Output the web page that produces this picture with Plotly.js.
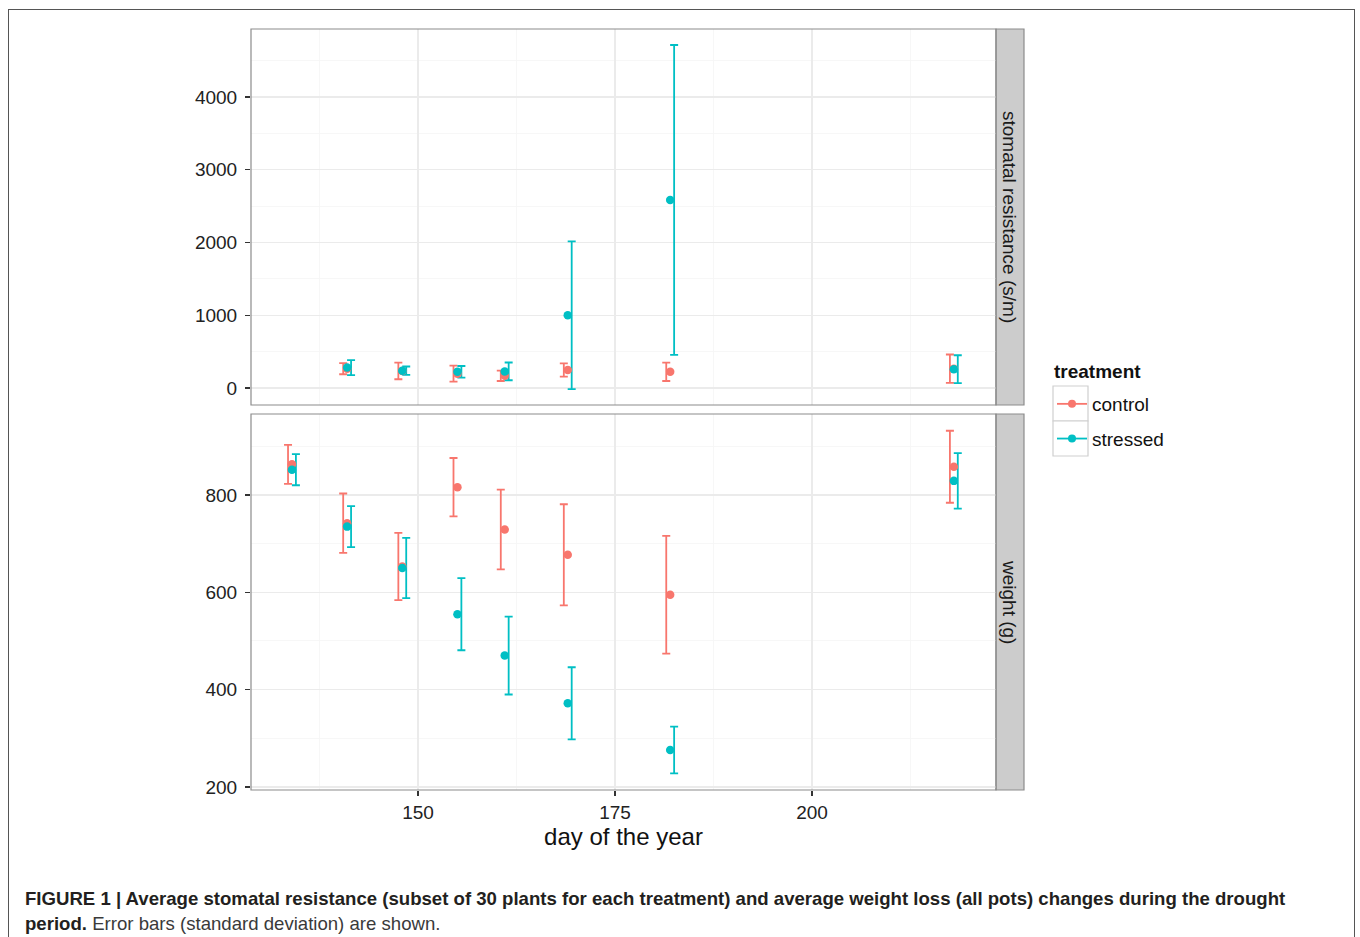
<!DOCTYPE html>
<html>
<head>
<meta charset="utf-8">
<script src="https://cdn.plot.ly/plotly-3.0.1.min.js"></script>
<style>
  html, body { margin: 0; padding: 0; background: #ffffff; }
  #frame { position: absolute; left: 8px; top: 9px; width: 1347px; height: 960px; border: 1px solid #555; box-sizing: border-box; }
  #chart { position: absolute; left: 0; top: 0; width: 1360px; height: 937px; }
  #caption { position: absolute; left: 25px; top: 886px; width: 1320px; font-family: "Liberation Sans", Arial, Helvetica, sans-serif; font-size: 18.6px; line-height: 25px; color: #231f20; white-space: nowrap; }
  #caption b { font-weight: bold; }
  #caption .rest { color: #3a3a3a; }
</style>
</head>
<body>
<div id="frame"></div>
<div id="chart"></div>
<div id="caption"><b>FIGURE 1 | Average stomatal resistance (subset of 30 plants for each treatment) and average weight loss (all pots) changes during the drought</b><br><b>period.</b> <span class="rest">Error bars (standard deviation) are shown.</span></div>
<script>
// ---- data ----
const resDays = [141, 148, 155, 161, 169, 182, 218];
const resControlMean = [265, 234, 197, 167, 247, 222, 265];
const resControlSD = [76, 114, 110, 71, 92, 126, 195];
const resStressedMean = [280, 238, 222, 228, 1000, 2585, 258];
const resStressedSD = [103, 57, 80, 122, 1015, 2130, 192];

const wDays = [134, 141, 148, 155, 161, 169, 182, 218];
const wControlMean = [863, 742, 653, 816, 729, 677, 595, 858];
const wControlSD = [40, 61, 69, 60, 82, 104, 121, 74];
const wStressedMean = [852, 735, 650, 555, 470, 372, 276, 829];
const wStressedSD = [32, 42, 62, 74, 80, 74, 48, 57];

const treatments = ['control', 'stressed'];
const colors = { control: '#F8766D', stressed: '#00BFC4' };
const panelLabels = ['stomatal resistance (s/m)', 'weight (g)'];

// ---- traces ----
const dodge = 0.5;
function errTrace(days, mean, sd, color, offset, xa, ya) {
  return {
    type: 'scatter', mode: 'markers', x: days.map(d => d + offset), y: mean,
    xaxis: xa, yaxis: ya, showlegend: false, hoverinfo: 'skip',
    marker: { size: 1, opacity: 0, color: color },
    error_y: { type: 'data', array: sd, visible: true, color: color, thickness: 1.8, width: 4 }
  };
}
function ptTrace(days, mean, color, xa, ya) {
  return {
    type: 'scatter', mode: 'markers', x: days, y: mean,
    xaxis: xa, yaxis: ya, showlegend: false,
    marker: { size: 8.5, color: color }
  };
}
const traces = [
  errTrace(resDays, resControlMean, resControlSD, colors.control, -dodge, 'x2', 'y2'),
  errTrace(resDays, resStressedMean, resStressedSD, colors.stressed, dodge, 'x2', 'y2'),
  ptTrace(resDays, resControlMean, colors.control, 'x2', 'y2'),
  ptTrace(resDays, resStressedMean, colors.stressed, 'x2', 'y2'),
  errTrace(wDays, wControlMean, wControlSD, colors.control, -dodge, 'x', 'y'),
  errTrace(wDays, wStressedMean, wStressedSD, colors.stressed, dodge, 'x', 'y'),
  ptTrace(wDays, wControlMean, colors.control, 'x', 'y'),
  ptTrace(wDays, wStressedMean, colors.stressed, 'x', 'y')
];
treatments.forEach((t, i) => {
  traces.push({
    type: 'scatter', mode: 'lines+markers', x: [null], y: [null], name: t,
    legendgroup: t, xaxis: 'x', yaxis: 'y',
    line: { color: colors[t], width: 1.8 }, marker: { color: colors[t], size: 8 }
  });
});

// ---- layout geometry ----
const W = 1360, H = 937;
const L = 251, R = 996, T = 29, B = 790;
const pw = R - L, ph = B - T;
const px = v => (v - L) / pw;
const py = v => (B - v) / ph;

const font = 'Liberation Sans, Arial, Helvetica, sans-serif';
const gridMajor = '#ebebeb', gridMinor = '#f5f5f5';
const tickFont = { family: font, size: 19, color: '#222' };

const xCommon = {
  range: [128.8, 223.35], tick0: 150, dtick: 25, showgrid: true, gridcolor: gridMajor, gridwidth: 1.1,
  minor: { tick0: 137.5, dtick: 25, showgrid: true, gridcolor: gridMinor, gridwidth: 0.8, ticks: '' },
  zeroline: false, showline: false, ticks: 'outside', ticklen: 5, tickwidth: 1.4, tickcolor: '#333',
  ticklabelstandoff: 0, tickfont: tickFont
};

const shapes = [];
// panel borders
[[py(405), 1], [0, py(414)]].forEach(([y0, y1]) => {
  shapes.push({ type: 'rect', xref: 'paper', yref: 'paper', x0: 0, x1: 1, y0: y0, y1: y1,
    line: { color: '#8c8c8c', width: 1.2 }, fillcolor: 'rgba(0,0,0,0)', layer: 'above' });
});
// strips
[[py(405), 1], [0, py(414)]].forEach(([y0, y1]) => {
  shapes.push({ type: 'rect', xref: 'paper', yref: 'paper', x0: 1, x1: px(1024), y0: y0, y1: y1,
    line: { color: '#8c8c8c', width: 1.2 }, fillcolor: '#cccccc', layer: 'below' });
});
// legend key boxes
[[386, 421], [421, 456]].forEach(([a, b]) => {
  shapes.push({ type: 'rect', xref: 'paper', yref: 'paper', x0: px(1053), x1: px(1088), y0: py(b), y1: py(a),
    line: { color: '#cfcfcf', width: 1.2 }, fillcolor: '#ffffff', layer: 'below' });
});

const annotations = [
  { text: panelLabels[0], xref: 'paper', yref: 'paper', x: px(1010), y: py(217), showarrow: false,
    xanchor: 'center', yanchor: 'middle', textangle: 90, font: { family: font, size: 19, color: '#1a1a1a' } },
  { text: panelLabels[1], xref: 'paper', yref: 'paper', x: px(1010), y: py(602), showarrow: false,
    xanchor: 'center', yanchor: 'middle', textangle: 90, font: { family: font, size: 19, color: '#1a1a1a' } },
  { text: '<b>treatment</b>', xref: 'paper', yref: 'paper', x: px(1052), y: py(371), showarrow: false,
    xanchor: 'left', yanchor: 'middle', font: { family: font, size: 19, color: '#111' } }
];

const layout = {
  width: W, height: H,
  margin: { l: L, r: W - R, t: T, b: H - B, pad: 0 },
  paper_bgcolor: 'rgba(0,0,0,0)', plot_bgcolor: '#ffffff',
  font: { family: font, color: '#222' },
  showlegend: true,
  legend: {
    x: px(1052), y: py(385), xanchor: 'left', yanchor: 'top',
    bgcolor: 'rgba(0,0,0,0)', borderwidth: 0,
    font: { family: font, size: 19, color: '#111' },
    tracegroupgap: 7, itemwidth: 30
  },
  xaxis: Object.assign({}, xCommon, { anchor: 'y', domain: [0, 1],
    title: { text: 'day of the year', font: { family: font, size: 24, color: '#111' }, standoff: 3 } }),
  xaxis2: Object.assign({}, xCommon, { anchor: 'y2', domain: [0, 1], matches: 'x', showticklabels: false, ticks: '' }),
  yaxis: {
    domain: [0, py(414)], range: [193.8, 966.4], tick0: 200, dtick: 200,
    showgrid: true, gridcolor: gridMajor, gridwidth: 1.1,
    minor: { tick0: 300, dtick: 200, showgrid: true, gridcolor: gridMinor, gridwidth: 0.8, ticks: '' },
    zeroline: false, showline: false, ticks: 'outside', ticklen: 5, tickwidth: 1.4, tickcolor: '#333',
    ticklabelstandoff: 4, tickfont: tickFont, anchor: 'x'
  },
  yaxis2: {
    domain: [py(405), 1], range: [-234, 4935], tick0: 0, dtick: 1000,
    showgrid: true, gridcolor: gridMajor, gridwidth: 1.1,
    minor: { tick0: 500, dtick: 1000, showgrid: true, gridcolor: gridMinor, gridwidth: 0.8, ticks: '' },
    zeroline: false, showline: false, ticks: 'outside', ticklen: 5, tickwidth: 1.4, tickcolor: '#333',
    ticklabelstandoff: 4, tickfont: tickFont, anchor: 'x2'
  },
  shapes: shapes,
  annotations: annotations
};

Plotly.newPlot('chart', traces, layout, { displayModeBar: false, staticPlot: true });
</script>
</body>
</html>
